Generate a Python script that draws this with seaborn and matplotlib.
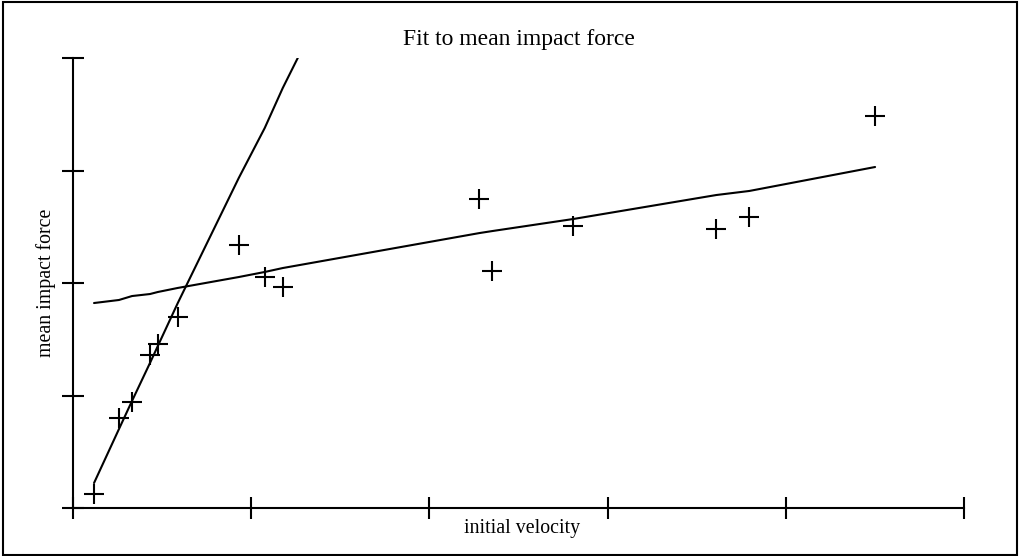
import numpy as np
import pandas as pd
import matplotlib
matplotlib.use("Agg")
import matplotlib.pyplot as plt
import seaborn as sns
from matplotlib.patches import Rectangle

# measured data (initial velocity vs mean impact force)
velocity = [0.118, 0.258, 0.331, 0.432, 0.476, 0.588, 0.930, 1.076, 1.177,
            2.281, 2.354, 2.808, 3.610, 3.795, 4.501]
force = [0.124, 0.800, 0.942, 1.360, 1.458, 1.698, 2.338, 2.053, 1.964,
         2.747, 2.107, 2.507, 2.480, 2.587, 3.484]

# steep fit (only the part that reaches into the plot)
steep_x = [0.118, 0.258, 0.331, 0.432, 0.476, 0.588, 0.930, 1.076, 1.177, 2.281]
steep_y = [0.222, 0.702, 0.951, 1.289, 1.440, 1.822, 2.933, 3.378, 3.733, 7.236]

# shallow fit over all velocities
flat_y = [1.822, 1.849, 1.884, 1.902, 1.920, 1.956, 2.053, 2.098, 2.133,
          2.444, 2.462, 2.569, 2.782, 2.818, 3.031]

sns.set_style("ticks")
plt.rcParams['font.family'] = ['Liberation Serif', 'DejaVu Serif']
plt.rcParams['text.color'] = 'black'

fig = plt.figure(figsize=(10.21, 5.56), dpi=100)
ax = fig.add_axes([73/1021, 1 - 508/556, (964 - 73)/1021, (508 - 58)/556])

pts = pd.DataFrame({"velocity": velocity, "force": force})
sns.scatterplot(data=pts, x="velocity", y="force", marker="+", s=220,
                color="black", linewidth=1.5, ax=ax, zorder=3)
sns.lineplot(x=steep_x, y=steep_y, sort=False, color="black", lw=1.5, ax=ax)
sns.lineplot(x=velocity, y=flat_y, sort=False, color="black", lw=1.5, ax=ax)

ax.set_xlim(0, 5)
ax.set_ylim(0, 4)
ax.set_xticks(range(6))
ax.set_yticks(range(5))
ax.set_xticklabels([])
ax.set_yticklabels([])
ax.tick_params(direction="inout", length=16, width=1.5, color="black")
for s in ["top", "right"]:
    ax.spines[s].set_visible(False)
for s in ["left", "bottom"]:
    ax.spines[s].set_linewidth(1.5)
    ax.spines[s].set_color("black")
ax.set_xlabel("")
ax.set_ylabel("")

fig.text(519/1021, 1 - 39/556, "Fit to mean impact force", ha="center", va="center",
         fontsize=17, color="black")
fig.text(522/1021, 1 - 528/556, "initial velocity", ha="center", va="center",
         fontsize=14.3, color="black")
fig.text(46/1021, 1 - 283/556, "mean impact force", ha="center", va="center",
         rotation=90, fontsize=14.3, color="black")

fig.patches.append(Rectangle((3/1021, 1/556), 1014/1021, 553/556, transform=fig.transFigure,
                             fill=False, edgecolor="black", lw=1.5))

fig.savefig("out.png", dpi=100)
